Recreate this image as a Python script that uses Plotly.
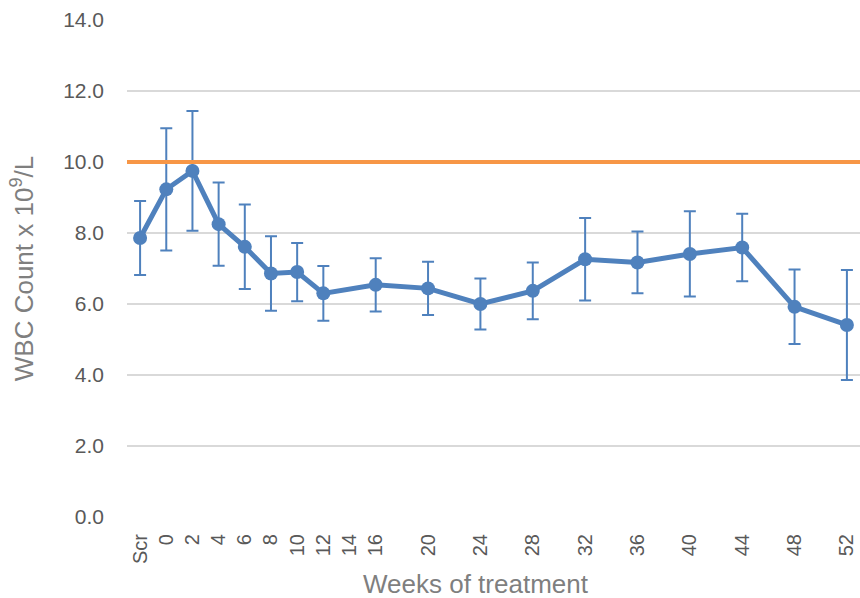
import plotly.graph_objects as go

# Weeks of treatment (screening visit placed two weeks before week 0)
weeks = [-2, 0, 2, 4, 6, 8, 10, 12, 16, 20, 24, 28, 32, 36, 40, 44, 48, 52]
wbc_mean = [7.86, 9.23, 9.75, 8.25, 7.61, 6.86, 6.90, 6.30, 6.54, 6.44,
            6.00, 6.37, 7.26, 7.17, 7.41, 7.59, 5.92, 5.41]
wbc_err = [1.04, 1.72, 1.69, 1.17, 1.19, 1.05, 0.82, 0.77, 0.75, 0.75,
           0.72, 0.80, 1.16, 0.87, 1.20, 0.95, 1.05, 1.55]

tick_vals = [-2, 0, 2, 4, 6, 8, 10, 12, 14, 16, 20, 24, 28, 32, 36, 40, 44, 48, 52]
tick_text = ["Scr", "0", "2", "4", "6", "8", "10", "12", "14", "16",
             "20", "24", "28", "32", "36", "40", "44", "48", "52"]

upper_limit = 10.0

blue = "#4F81BD"
orange = "#F79646"
font_family = "Liberation Sans, Arial, sans-serif"

fig = go.Figure()

fig.add_trace(go.Scatter(
    x=weeks,
    y=wbc_mean,
    mode="lines+markers",
    line=dict(color=blue, width=5),
    marker=dict(color=blue, size=14),
    error_y=dict(type="data", array=wbc_err, visible=True,
                 color=blue, thickness=2, width=6),
    showlegend=False,
))

# Upper reference limit across the plot area
fig.add_shape(type="line", xref="paper", yref="y",
              x0=0, x1=1, y0=upper_limit, y1=upper_limit,
              line=dict(color=orange, width=4), layer="above")

# X-axis title, placed as an annotation so it can sit slightly left of centre
fig.add_annotation(text="Weeks of treatment", xref="paper", yref="paper",
                   x=0.4768, y=0, yshift=-50, xanchor="center", yanchor="top",
                   showarrow=False, font=dict(size=26, color="#7F7F7F"))

fig.update_layout(
    width=860, height=598,
    margin=dict(l=127, r=0, t=20, b=81),
    paper_bgcolor="white",
    plot_bgcolor="white",
    font=dict(family=font_family, color="#595959"),
    xaxis=dict(
        range=[-3, 53],
        tickmode="array",
        tickvals=tick_vals,
        ticktext=tick_text,
        tickangle=-90,
        tickfont=dict(size=20, color="#595959"),
        showgrid=False,
        zeroline=False,
        showline=False,
        ticks="",
        ticklabelstandoff=12,
    ),
    yaxis=dict(
        range=[0, 14],
        tickmode="array",
        tickvals=[0, 2, 4, 6, 8, 10, 12, 14],
        tickformat=".1f",
        tickfont=dict(size=21, color="#595959"),
        showgrid=True,
        gridcolor="#D9D9D9",
        gridwidth=1.5,
        zeroline=False,
        ticks="",
        ticklabelstandoff=22,
        title=dict(text="WBC Count x 10<sup>9</sup>/L",
                   font=dict(size=26, color="#7F7F7F"), standoff=22),
    ),
)

fig.write_html("out.html")
